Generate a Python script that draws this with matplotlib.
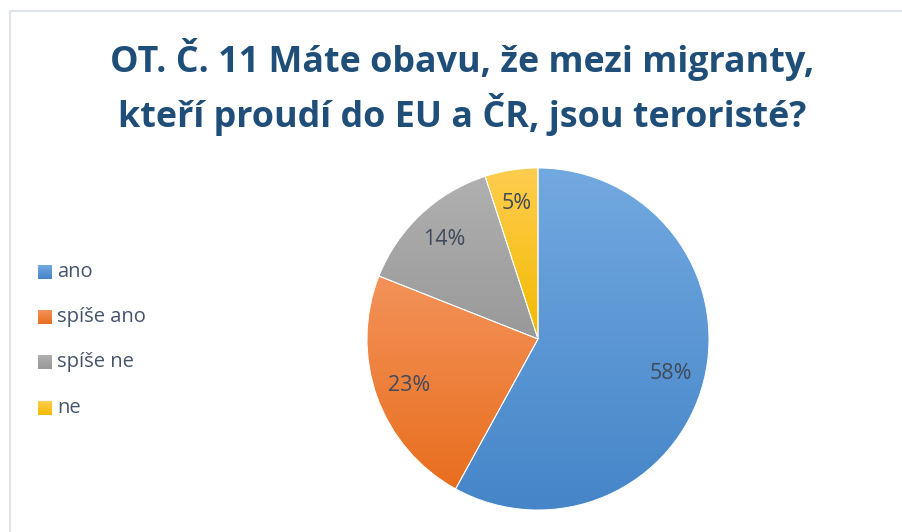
import numpy as np
import matplotlib
matplotlib.use("Agg")
import matplotlib.pyplot as plt
from matplotlib.colors import LinearSegmentedColormap
from matplotlib.patches import Rectangle

categories = ["ano", "spíše ano", "spíše ne", "ne"]
values = [58, 23, 14, 5]
labels = ["58%", "23%", "14%", "5%"]
title = "OT. Č. 11 Máte obavu, že mezi migranty,\nkteří proudí do EU a ČR, jsou teroristé?"

top_colors = ["#72A9E0", "#F39259", "#B0B0B0", "#FFCD4F"]
bot_colors = ["#4585C8", "#E86E1E", "#999999", "#F2BA00"]
mid_colors = ["#5B9BD5", "#ED7D31", "#A5A5A5", "#FFC000"]

W, H = 902, 532
fig = plt.figure(figsize=(W / 100, H / 100), dpi=100)
fig.patch.set_facecolor("white")

# frame (left/top border visible)
fig.add_artist(Rectangle((9.5 / W, -0.1), 1.2, 1 - 10.5 / H + 0.1, transform=fig.transFigure,
                         fill=False, edgecolor="#DFE4EB", linewidth=1.5))

fig.text(462 / W, 1 - 87 / H, title, ha="center", va="center", fontsize=25.8,
         fontweight="bold", color="#1F4E79", family="Open Sans", linespacing=1.38)

cx, cy, r = 538, 339, 171
ax = fig.add_axes([(cx - r) / W, (H - cy - r) / H, 2 * r / W, 2 * r / H])
wedges, texts = ax.pie(values, colors=mid_colors, startangle=90, counterclock=False,
                       radius=1, labels=labels, labeldistance=0.8,
                       wedgeprops=dict(linewidth=0.7, edgecolor="white"),
                       textprops=dict(fontsize=15.5, color="#404A5A", family="Open Sans"))
for t in texts:
    t.set_ha("center"); t.set_va("center")
ax.set_aspect("equal")
ax.axis("off")

# gradient fills
for w, tc, bc in zip(wedges, top_colors, bot_colors):
    ext = w.get_path().get_extents(w.get_patch_transform())
    cmap = LinearSegmentedColormap.from_list("g", [bc, tc])
    grad = np.linspace(0, 1, 256).reshape(-1, 1)
    im = ax.imshow(grad, cmap=cmap, extent=[ext.x0, ext.x1, ext.y0, ext.y1],
                   origin="lower", aspect="auto", zorder=0.5)
    im.set_clip_path(w)
    w.set_facecolor("none")
    w.set_zorder(1)
for t in texts:
    t.set_zorder(3)
ax.set_xlim(-1.0, 1.0)
ax.set_ylim(-1.0, 1.0)

# legend
leg_y = [272, 317, 362, 408]
for cat, yy, tc, bc in zip(categories, leg_y, top_colors, bot_colors):
    lax = fig.add_axes([38 / W, (H - yy - 7) / H, 14 / W, 14 / H])
    cmap = LinearSegmentedColormap.from_list("g", [bc, tc])
    lax.imshow(np.linspace(0, 1, 32).reshape(-1, 1), cmap=cmap, origin="lower", aspect="auto")
    lax.axis("off")
    fig.text(57 / W, 1 - yy / H, cat, ha="left", va="center", fontsize=14.5,
             color="#44546A", family="Open Sans")

fig.savefig("out.png", dpi=100, facecolor="white")
